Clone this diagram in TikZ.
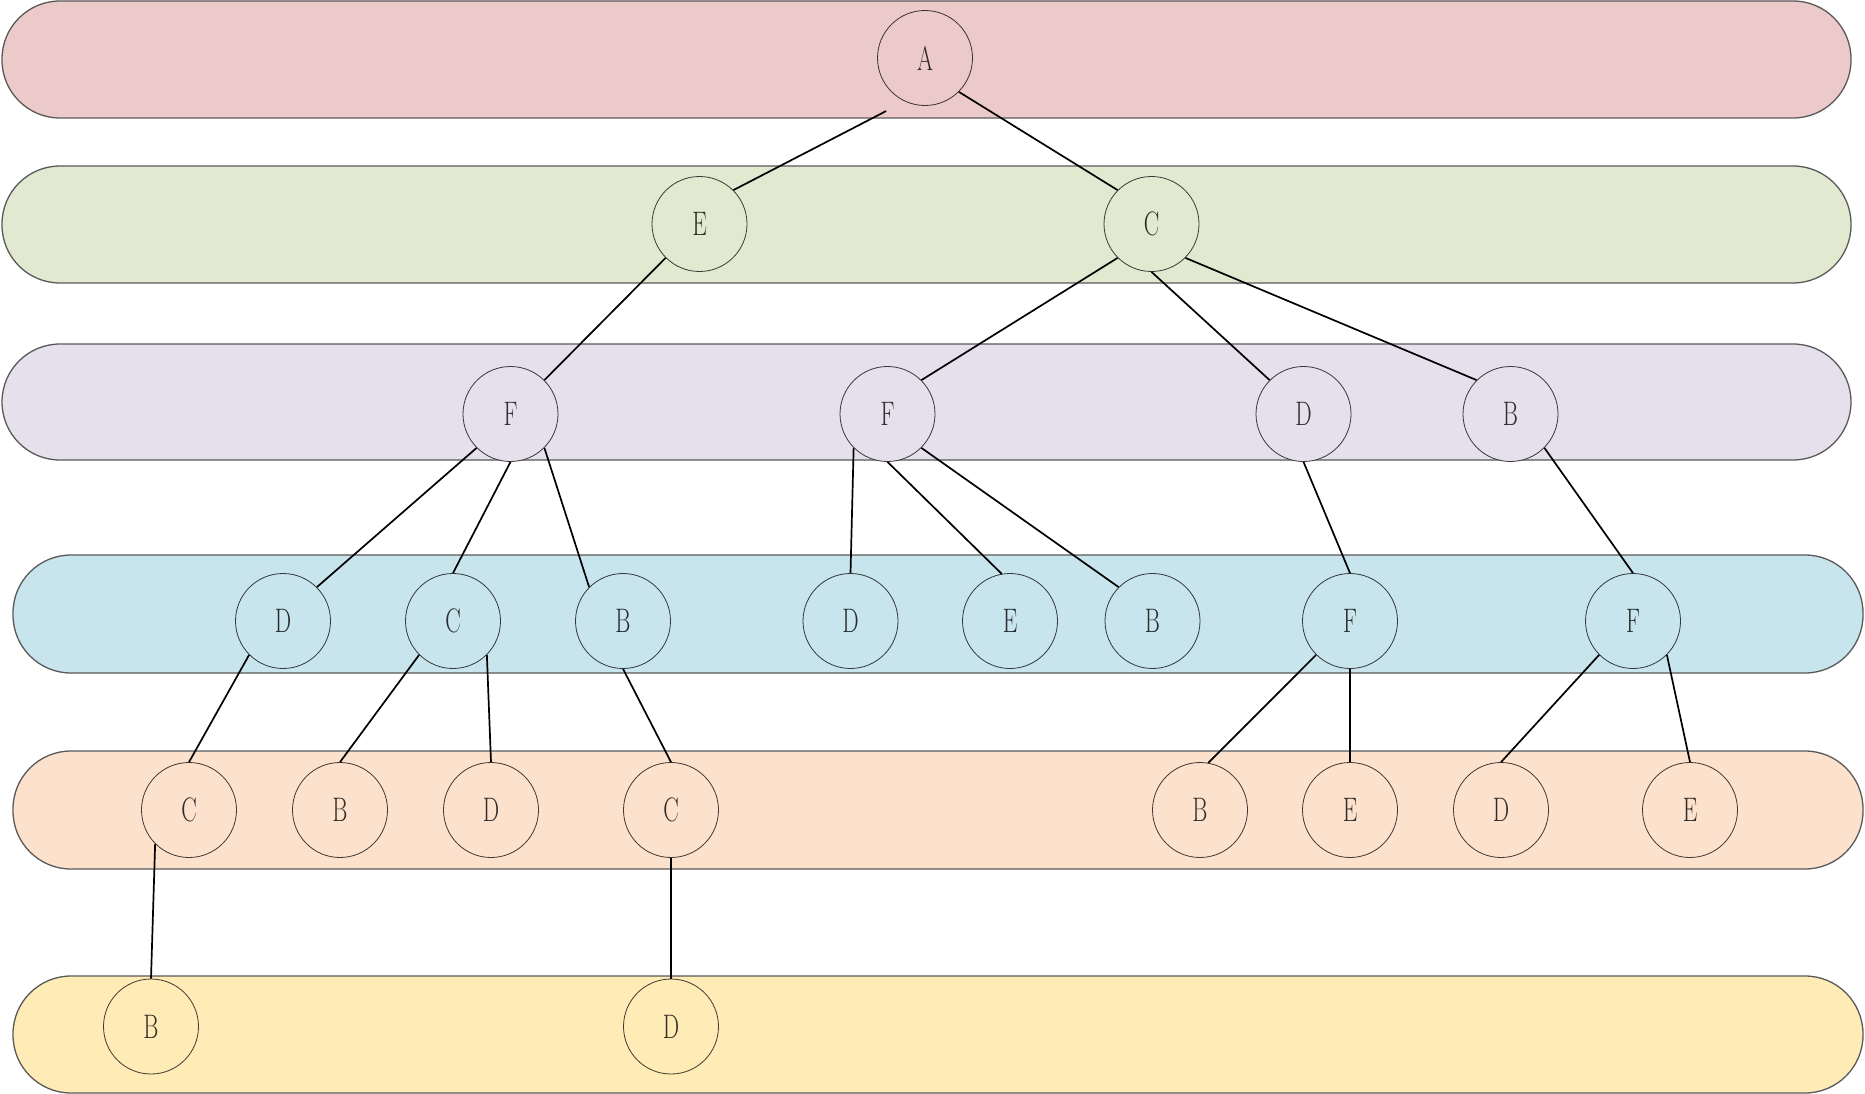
\documentclass[tikz,border=0pt]{standalone}
\usepackage{graphicx}
\definecolor{bandA}{RGB}{236,202,202}
\definecolor{bandB}{RGB}{225,234,208}
\definecolor{bandC}{RGB}{229,224,236}
\definecolor{bandD}{RGB}{200,228,236}
\definecolor{bandE}{RGB}{252,225,205}
\definecolor{bandF}{RGB}{255,235,182}
\newcommand{\lbl}[1]{\scalebox{0.68}[1]{#1}}
\begin{document}
\begin{tikzpicture}[x=1pt,y=-1pt,
  band/.style={draw=black!65, line width=1.3pt, rounded corners=58pt},
  vtx/.style={circle, minimum size=95pt, inner sep=0pt, line width=0.8pt,
    font=\fontsize{34}{34}\selectfont},
  lvA/.style={vtx, fill=bandA, draw=bandA!25!black, text=bandA!20!black},
  lvB/.style={vtx, fill=bandB, draw=bandB!25!black, text=bandB!20!black},
  lvC/.style={vtx, fill=bandC, draw=bandC!25!black, text=bandC!20!black},
  lvD/.style={vtx, fill=bandD, draw=bandD!25!black, text=bandD!20!black},
  lvE/.style={vtx, fill=bandE, draw=bandE!25!black, text=bandE!20!black},
  lvF/.style={vtx, fill=bandF, draw=bandF!25!black, text=bandF!20!black},
  edge/.style={draw=black, line width=1.7pt}]
\useasboundingbox (0,0) rectangle (1865,1094);
% bands
\draw[band, fill=bandA] (2,1) rectangle (1851,118);
\draw[band, fill=bandB] (2,166) rectangle (1851,283);
\draw[band, fill=bandC] (2,344) rectangle (1851,460);
\draw[band, fill=bandD] (13,555) rectangle (1863,673);
\draw[band, fill=bandE] (13,751) rectangle (1863,869);
\draw[band, fill=bandF] (13,976) rectangle (1863,1093);
% level 1
\node[lvA] (A) at (925,58) {\lbl{A}};
% level 2
\node[lvB] (E2) at (699.5,224) {\lbl{E}};
\node[lvB] (C2) at (1151.5,224) {\lbl{C}};
% level 3
\node[lvC] (F3a) at (510.5,414) {\lbl{F}};
\node[lvC] (F3b) at (887.5,414) {\lbl{F}};
\node[lvC] (D3) at (1303.5,414) {\lbl{D}};
\node[lvC] (B3) at (1510.5,414) {\lbl{B}};
% level 4
\node[lvD] (D4a) at (283,621) {\lbl{D}};
\node[lvD] (C4) at (453,621) {\lbl{C}};
\node[lvD] (B4a) at (623,621) {\lbl{B}};
\node[lvD] (D4b) at (850.5,621) {\lbl{D}};
\node[lvD] (E4) at (1010,621) {\lbl{E}};
\node[lvD] (B4b) at (1152.5,621) {\lbl{B}};
\node[lvD] (F4a) at (1350,621) {\lbl{F}};
\node[lvD] (F4b) at (1633,621) {\lbl{F}};
% level 5
\node[lvE] (C5a) at (189,810) {\lbl{C}};
\node[lvE] (B5a) at (340,810) {\lbl{B}};
\node[lvE] (D5a) at (491,810) {\lbl{D}};
\node[lvE] (C5b) at (671,810) {\lbl{C}};
\node[lvE] (B5b) at (1200,810) {\lbl{B}};
\node[lvE] (E5a) at (1350,810) {\lbl{E}};
\node[lvE] (D5b) at (1501,810) {\lbl{D}};
\node[lvE] (E5b) at (1690,810) {\lbl{E}};
% level 6
\node[lvF] (B6) at (151,1026.5) {\lbl{B}};
\node[lvF] (D6) at (671,1026.5) {\lbl{D}};
% connectors
\draw[edge, shorten >=21pt] (E2.45) -- (A.245);
\draw[edge] (A.-45) -- (C2.135);
\draw[edge] (E2.225) -- (F3a.45);
\draw[edge] (C2.225) -- (F3b.45);
\draw[edge] (C2.south) -- (D3.135);
\draw[edge] (C2.-45) -- (B3.135);
\draw[edge] (F3a.225) -- (D4a.45);
\draw[edge] (F3a.south) -- (C4.north);
\draw[edge] (F3a.-45) -- (B4a.135);
\draw[edge] (F3b.225) -- (D4b.north);
\draw[edge] (F3b.south) -- (E4.100);
\draw[edge] (F3b.-45) -- (B4b.135);
\draw[edge] (D3.south) -- (F4a.north);
\draw[edge] (B3.-45) -- (F4b.north);
\draw[edge] (D4a.225) -- (C5a.north);
\draw[edge] (C4.225) -- (B5a.north);
\draw[edge] (C4.-45) -- (D5a.north);
\draw[edge] (B4a.south) -- (C5b.north);
\draw[edge] (F4a.225) -- (B5b.80);
\draw[edge] (F4a.south) -- (E5a.north);
\draw[edge] (F4b.225) -- (D5b.north);
\draw[edge] (F4b.-45) -- (E5b.north);
\draw[edge] (C5a.225) -- (B6.north);
\draw[edge] (C5b.south) -- (D6.north);
\end{tikzpicture}
\end{document}
